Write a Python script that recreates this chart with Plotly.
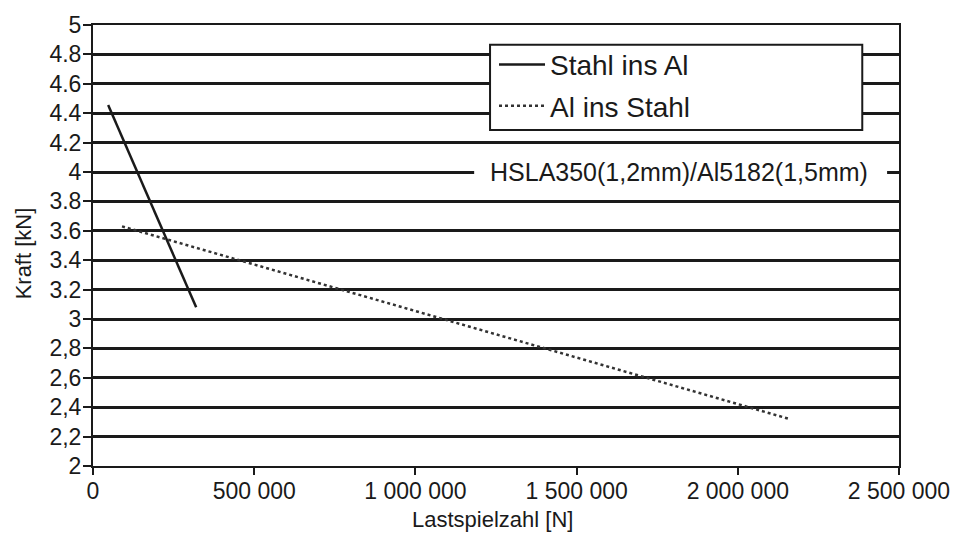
import plotly.graph_objects as go

# ---- data ----
stahl_ins_al_x = [47000, 320000]
stahl_ins_al_y = [4.455, 3.08]
al_ins_stahl_x = [90000, 2160000]
al_ins_stahl_y = [3.63, 2.32]

y_tickvals = [2, 2.2, 2.4, 2.6, 2.8, 3, 3.2, 3.4, 3.6, 3.8, 4, 4.2, 4.4, 4.6, 4.8, 5]
y_ticktext = ["2", "2,2", "2,4", "2,6", "2,8", "3", "3.2", "3.4", "3.6", "3.8", "4", "4.2", "4.4", "4.6", "4.8", "5"]
x_tickvals = [0, 500000, 1000000, 1500000, 2000000, 2500000]
x_ticktext = ["0", "500 000", "1 000 000", "1 500 000", "2 000 000", "2 500 000"]

legend_names = ["Stahl ins Al", "Al ins Stahl"]
annotation_text = "HSLA350(1,2mm)/Al5182(1,5mm)"
x_title = "Lastspielzahl [N]"
y_title = "Kraft [kN]"

FONT = "Liberation Sans, Arial, sans-serif"
INK = "#1a1a1a"

fig = go.Figure()
fig.add_trace(go.Scatter(x=stahl_ins_al_x, y=stahl_ins_al_y, mode="lines",
                         name=legend_names[0], legendgroup="a",
                         line=dict(color=INK, width=2.5)))
fig.add_trace(go.Scatter(x=al_ins_stahl_x, y=al_ins_stahl_y, mode="lines",
                         name=legend_names[1], legendgroup="b",
                         line=dict(color="#333333", width=2.5, dash="dot")))

L, R, T, B = 93, 57, 17, 68
W, H = 962, 534
pw, ph = W - L - R, H - T - B

def px(xp):
    return (xp - L) / pw

def py(yp):
    return (H - B - yp) / ph

fig.update_layout(
    width=W, height=H,
    margin=dict(l=L, r=R, t=T, b=B),
    paper_bgcolor="white", plot_bgcolor="white",
    font=dict(family=FONT, size=22, color=INK),
    showlegend=True,
    legend=dict(x=px(497), y=py(32), xanchor="left", yanchor="top",
                bgcolor="rgba(0,0,0,0)", borderwidth=0,
                font=dict(size=28, family=FONT, color=INK),
                tracegroupgap=2, itemwidth=46),
    xaxis=dict(range=[0, 2500000], tickvals=x_tickvals, ticktext=x_ticktext,
               showgrid=False, zeroline=False, showline=True, linecolor=INK,
               linewidth=2, mirror=True, ticks="outside", ticklen=7,
               tickwidth=2, tickcolor=INK, tickfont=dict(size=23),
               ticklabelstandoff=-4),
    yaxis=dict(range=[2, 5], tickvals=y_tickvals, ticktext=y_ticktext,
               showgrid=True, gridcolor=INK, gridwidth=2.8, zeroline=False,
               showline=True, linecolor=INK, linewidth=2, mirror=True,
               ticks="outside", ticklen=8, tickwidth=2, tickcolor=INK,
               tickfont=dict(size=23), ticklabelstandoff=-3),
    shapes=[
        # legend box
        dict(type="rect", xref="paper", yref="paper",
             x0=px(493), x1=px(868), y0=py(124), y1=py(37),
             fillcolor="white", line=dict(color=INK, width=2), layer="above"),
        # annotation background
        dict(type="rect", xref="paper", yref="paper",
             x0=px(477), x1=px(893), y0=py(150), y1=py(184),
             fillcolor="white", line=dict(width=0), layer="above"),
    ],
    annotations=[
        dict(text=annotation_text, xref="paper", yref="y", x=px(683), y=4,
             showarrow=False, font=dict(size=25, family=FONT, color=INK),
             xanchor="center", yanchor="middle"),
        dict(text=y_title, xref="paper", yref="paper", x=px(23), y=py(250),
             textangle=-90, showarrow=False, font=dict(size=22, family=FONT, color=INK),
             xanchor="center", yanchor="middle"),
        dict(text=x_title, xref="paper", yref="paper", x=px(495), y=py(520),
             showarrow=False, font=dict(size=22, family=FONT, color=INK),
             xanchor="center", yanchor="middle"),
    ],
)

fig.write_html("out.html")
